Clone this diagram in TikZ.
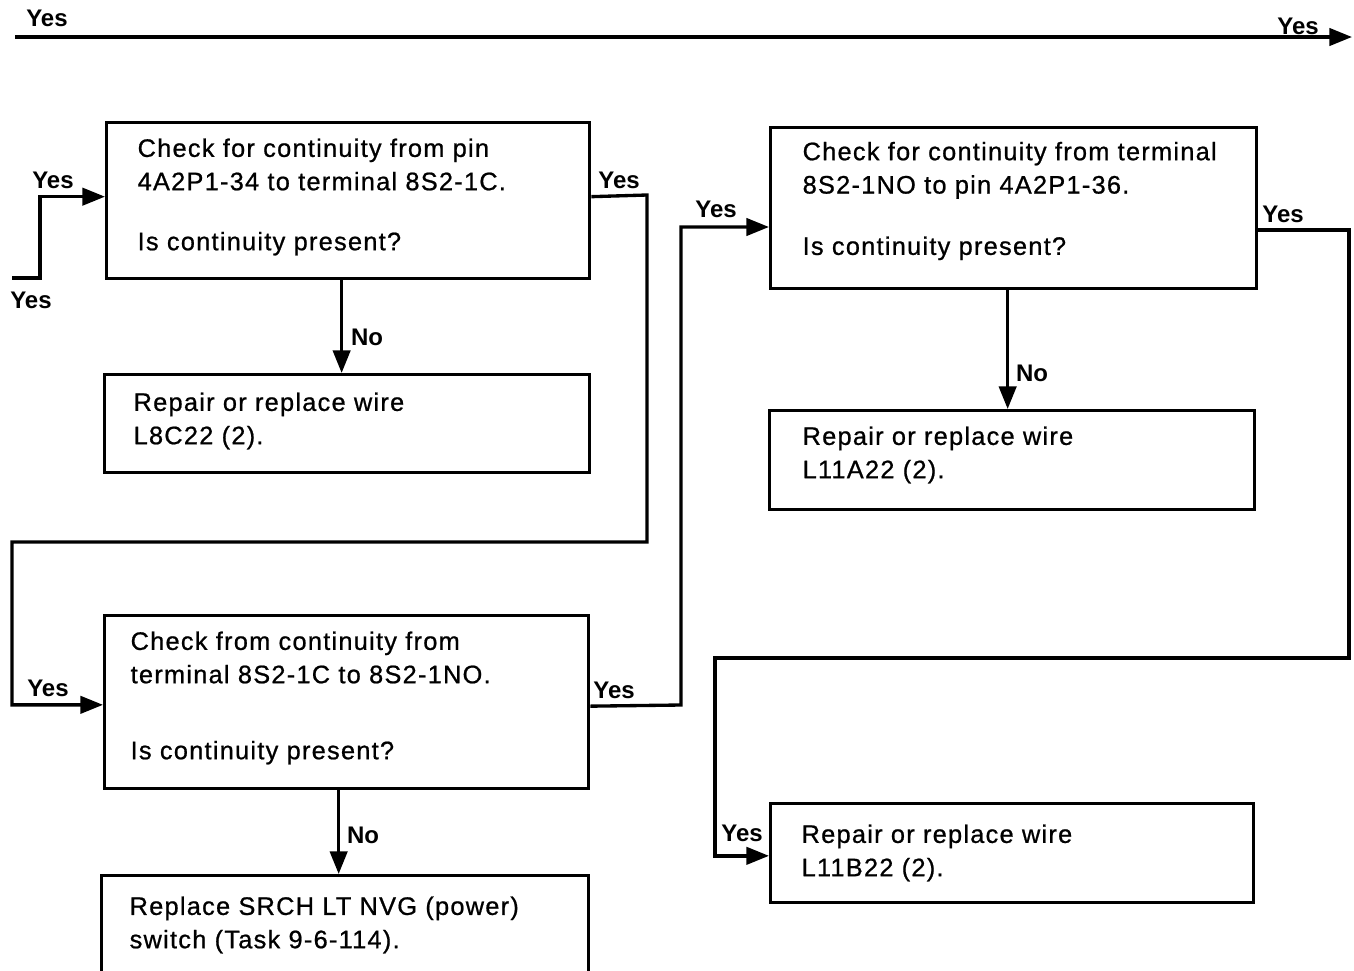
\documentclass[tikz,border=0pt]{standalone}
\usepackage{fontspec}
\setmainfont{Liberation Sans}
\usetikzlibrary{arrows.meta}
\begin{document}
\begin{tikzpicture}[x=0.75pt,y=-0.75pt,
  line width=2.5pt,
  arr/.style={-{Triangle[length=17pt,width=13pt]}},
  box/.style={draw, anchor=north west, inner sep=0pt},
  txt/.style={anchor=west, align=left, inner sep=0pt,
    font=\addfontfeatures{LetterSpace=5,FakeBold=0.8}\fontsize{19}{25}\selectfont},
  lab/.style={inner sep=0pt, font=\bfseries\fontsize{18}{20}\selectfont}]
\useasboundingbox (0,0) rectangle (1354,971);
\clip (0,0) rectangle (1354,971);
% boxes
\node[box, minimum width=362.25pt, minimum height=117pt] (A) at (105,121) {};
\node[box, minimum width=363.75pt, minimum height=73.5pt] (B) at (103,373) {};
\node[box, minimum width=363pt, minimum height=129.75pt] (C) at (103,614) {};
\node[box, minimum width=365.25pt, minimum height=74.25pt] (D) at (100,874) {};
\node[box, minimum width=364.5pt, minimum height=120.75pt] (E) at (769,126) {};
\node[box, minimum width=363.75pt, minimum height=74.25pt] (F) at (768,409) {};
\node[box, minimum width=362.25pt, minimum height=74.25pt] (G) at (769,802) {};
% texts
\node[txt] (At) at (136,197) {Check for continuity from pin\\4A2P1-34 to terminal 8S2-1C.\\[20pt]Is continuity present?};
\node[txt] (Bt) at (132,421) {Repair or replace wire\\L8C22 (2).};
\node[txt] (Ct) at (129,698) {Check from continuity from\\terminal 8S2-1C to 8S2-1NO.\\[32pt]Is continuity present?};
\node[txt] (Dt) at (128,925) {Replace SRCH LT NVG (power)\\switch (Task 9-6-114).};
\node[txt] (Et) at (801,201) {Check for continuity from terminal\\8S2-1NO to pin 4A2P1-36.\\[21pt]Is continuity present?};
\node[txt] (Ft) at (801,455) {Repair or replace wire\\L11A22 (2).};
\node[txt] (Gt) at (800,853) {Repair or replace wire\\L11B22 (2).};
% top line
\coordinate (t0) at (15,37);
\coordinate (t1) at (1352,37);
\draw[arr] (t0) -- (t1);
\node[lab] (y1) at (47,18) {Yes};
\node[lab] (y2) at (1298,26) {Yes};
% start
\coordinate (s0) at (12,278);
\draw[arr] (s0) -- (40,278) |- ([yshift=3pt]A.west);
\node[lab] (y3) at (31,300) {Yes};
\node[lab] (y4) at (53,180) {Yes};
% A yes -> C
\draw[arr] ([yshift=3pt]A.east) -- (647,195) -- (647,542) -- (12,542) |- ([yshift=-2pt]C.west);
\node[lab] (y5) at (619,180) {Yes};
\node[lab] (y6) at (48,688) {Yes};
% A no -> B
\draw[arr] ([xshift=-4.9pt]A.south) -- ([xshift=-4.9pt]A.south |- B.north);
\node[lab] (n1) at (367,337) {No};
% C no -> D
\draw[arr] ([xshift=-6pt]C.south) -- ([xshift=-6pt]C.south |- D.north);
\node[lab] (n2) at (363,835) {No};
% C yes -> E
\draw[arr] ([yshift=-3pt]C.east) -- (681,705) |- ([yshift=-75.75pt]E.north west);
\node[lab] (y7) at (614,690) {Yes};
\node[lab] (y8) at (716,209) {Yes};
% E no -> F
\draw[arr] ([xshift=-4.5pt]E.south) -- ([xshift=-4.5pt]E.south |- F.north);
\node[lab] (n3) at (1032,373) {No};
% E yes -> G
\draw[arr] ([yshift=-78pt]E.north east) -- (1349,230) -- (1349,658) -- (715,658) |- ([yshift=-2pt]G.west);
\node[lab] (y9) at (1283,214) {Yes};
\node[lab] (y10) at (742,833) {Yes};
\end{tikzpicture}
\end{document}
